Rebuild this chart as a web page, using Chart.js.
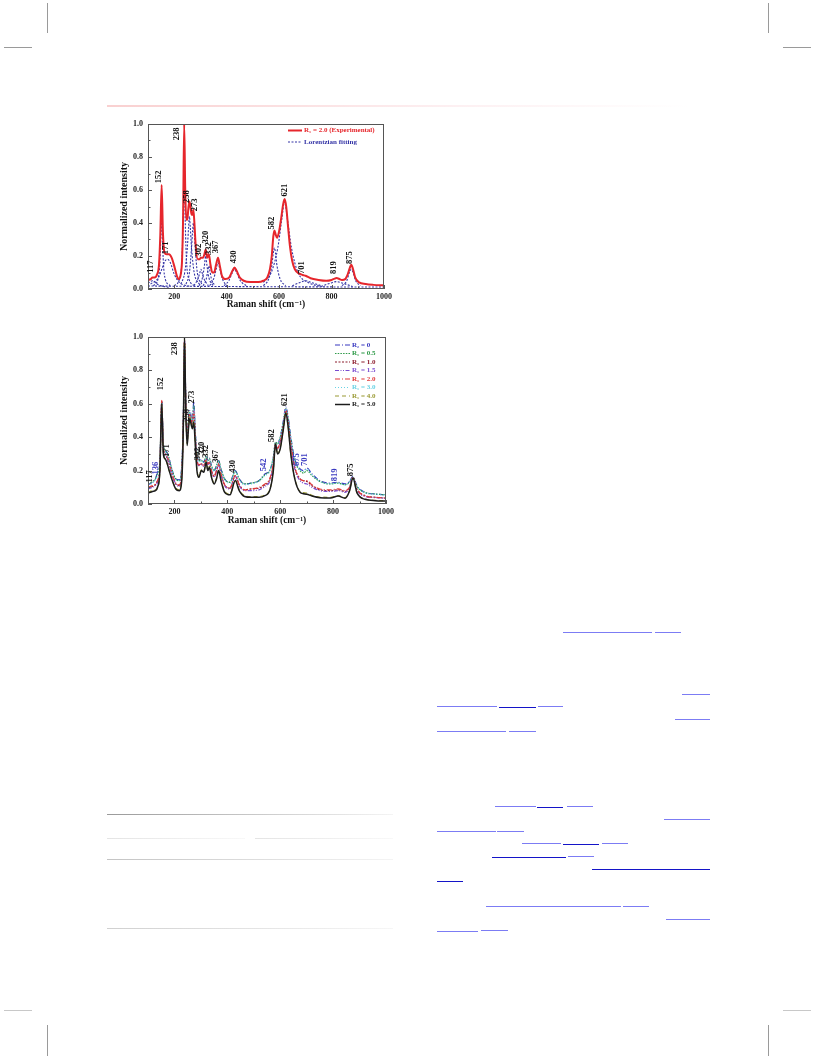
<!DOCTYPE html>
<html>
<head>
<meta charset="utf-8">
<script src="https://cdn.jsdelivr.net/npm/chart.js@4.4.0/dist/chart.umd.min.js"></script>
<style>
  body { margin: 0; background: #fff; }
  #page { position: relative; width: 816px; height: 1056px; overflow: hidden; background: #fff; }
  .box { position: absolute; }
  .crop { position: absolute; background: #9a9a9a; }
  .ul { position: absolute; height: 1px; background: #7c7cf4; }
  .ul.dk { background: #1414c8; }
  .rule { position: absolute; height: 1px; }
</style>
</head>
<body>
<div id="page">
  <!-- crop marks -->
  <div class="crop" style="left:47px;top:3px;width:1px;height:30px"></div>
  <div class="crop" style="left:768px;top:3px;width:1px;height:30px"></div>
  <div class="crop" style="left:4px;top:47px;width:28px;height:1px"></div>
  <div class="crop" style="left:783px;top:47px;width:28px;height:1px"></div>
  <div class="crop" style="left:4px;top:1010px;width:28px;height:1px;background:#c8c8c8"></div>
  <div class="crop" style="left:783px;top:1010px;width:28px;height:1px;background:#c8c8c8"></div>
  <div class="crop" style="left:47px;top:1025px;width:1px;height:31px"></div>
  <div class="crop" style="left:768px;top:1025px;width:1px;height:31px"></div>

  <div class="rule" style="left:107px;top:105px;width:583px;height:1.5px;background:linear-gradient(to right,#f9d0d0,#fdf0f2 60%,#fff)"></div>
  <div class="rule" style="left:107px;top:814px;width:286px;background:linear-gradient(to right,#9a9a9a,#f4f4f4)"></div>
  <div class="rule" style="left:107px;top:838px;width:138px;background:linear-gradient(to right,#e4e4e4,#f8f8f8)"></div>
  <div class="rule" style="left:255px;top:838px;width:138px;background:linear-gradient(to right,#e4e4e4,#f8f8f8)"></div>
  <div class="rule" style="left:107px;top:859px;width:286px;background:linear-gradient(to right,#c4c4c4,#f4f4f4)"></div>
  <div class="rule" style="left:107px;top:928px;width:286px;background:linear-gradient(to right,#d0d0d0,#f6f6f6)"></div>

  <!-- reference link underlines, right column -->
  <div class="ul" style="left:563px;top:632px;width:89px"></div>
  <div class="ul" style="left:655px;top:632px;width:26px"></div>
  <div class="ul" style="left:682px;top:694px;width:28px"></div>
  <div class="ul" style="left:437px;top:706px;width:60px"></div>
  <div class="ul dk" style="left:499px;top:707px;width:37px"></div>
  <div class="ul" style="left:538px;top:706px;width:25px"></div>
  <div class="ul" style="left:675px;top:719px;width:35px"></div>
  <div class="ul" style="left:437px;top:731px;width:69px"></div>
  <div class="ul" style="left:509px;top:731px;width:27px"></div>
  <div class="ul" style="left:495px;top:806px;width:41px"></div>
  <div class="ul dk" style="left:537px;top:807px;width:26px"></div>
  <div class="ul" style="left:567px;top:806px;width:26px"></div>
  <div class="ul" style="left:664px;top:819px;width:46px"></div>
  <div class="ul" style="left:437px;top:831px;width:59px"></div>
  <div class="ul" style="left:497px;top:831px;width:27px"></div>
  <div class="ul" style="left:522px;top:843px;width:39px"></div>
  <div class="ul dk" style="left:563px;top:844px;width:36px"></div>
  <div class="ul" style="left:602px;top:843px;width:26px"></div>
  <div class="ul dk" style="left:492px;top:857px;width:74px"></div>
  <div class="ul" style="left:568px;top:856px;width:26px"></div>
  <div class="ul dk" style="left:592px;top:869px;width:118px"></div>
  <div class="ul dk" style="left:437px;top:881px;width:26px"></div>
  <div class="ul" style="left:486px;top:906px;width:135px"></div>
  <div class="ul" style="left:623px;top:906px;width:26px"></div>
  <div class="ul" style="left:666px;top:919px;width:44px"></div>
  <div class="ul" style="left:437px;top:931px;width:41px"></div>
  <div class="ul" style="left:481px;top:930px;width:27px"></div>

  <div class="box" style="left:96px;top:112px;"><canvas id="ramanFit" width="300" height="200"></canvas></div>
  <div class="box" style="left:96px;top:325px;"><canvas id="ramanSeries" width="302" height="201"></canvas></div>
</div>

<script>
// ---- top panel: experimental spectrum (R1 = 2.0) ----
const fitX = [100,110,117,125,135,142,147,152,157,163,171,180,190,200,210,218,225,230,234,238,
  242,246,250,254,258,262,266,270,273,277,282,290,296,302,310,315,320,326,332,338,
  345,352,360,367,374,382,395,410,422,430,438,450,465,490,520,540,555,565,572,578,
  582,587,592,600,608,615,621,627,634,642,650,660,675,690,701,720,750,780,800,812,
  819,828,840,852,862,869,875,882,890,905,930,960,1000];
const fitExp = [0.055,0.06,0.07,0.07,0.09,0.15,0.33,0.63,0.34,0.22,0.21,0.21,0.19,0.14,0.08,0.06,0.09,0.18,0.45,1.0,
  0.6,0.42,0.42,0.49,0.53,0.5,0.45,0.45,0.48,0.4,0.26,0.18,0.18,0.19,0.19,0.21,0.24,0.19,0.21,0.15,
  0.1,0.1,0.15,0.19,0.14,0.08,0.06,0.07,0.11,0.13,0.11,0.07,0.05,0.042,0.042,0.05,0.07,0.12,0.2,0.32,
  0.355,0.33,0.31,0.35,0.43,0.51,0.545,0.5,0.38,0.25,0.17,0.12,0.095,0.085,0.08,0.065,0.055,0.05,0.055,0.063,
  0.066,0.062,0.055,0.06,0.09,0.125,0.147,0.12,0.07,0.04,0.03,0.025,0.022];

// Lorentzian components (wavenumber, intensity)
const lor117 = [[100,0.035],[110,0.045],[117,0.05],[124,0.045],[140,0.025],[180,0.01]];
const lor152 = [[120,0.02],[138,0.06],[145,0.15],[149,0.32],[152,0.5],[155,0.32],[159,0.15],[166,0.06],[185,0.02]];
const lor171 = [[110,0.03],[140,0.07],[155,0.13],[165,0.17],[175,0.18],[185,0.16],[200,0.09],[220,0.04],[260,0.015]];
const lor238 = [[200,0.02],[220,0.06],[230,0.2],[235,0.5],[238,0.87],[241,0.5],[246,0.2],[256,0.06],[280,0.02]];
const lor258 = [[225,0.03],[240,0.1],[250,0.25],[255,0.38],[258,0.44],[261,0.38],[266,0.25],[276,0.1],[295,0.03]];
const lor273 = [[245,0.03],[258,0.1],[266,0.25],[270,0.35],[273,0.4],[276,0.35],[280,0.25],[288,0.1],[305,0.03]];
const lor302 = [[275,0.02],[290,0.06],[298,0.1],[302,0.12],[306,0.1],[314,0.06],[330,0.02]];
const lor320 = [[295,0.02],[308,0.07],[315,0.14],[320,0.2],[325,0.14],[332,0.07],[348,0.02]];
const lor332 = [[310,0.02],[322,0.06],[328,0.11],[332,0.14],[336,0.11],[342,0.06],[355,0.02]];
const lor367 = [[335,0.02],[350,0.06],[360,0.12],[367,0.16],[374,0.12],[384,0.06],[400,0.02]];
const lor430 = [[390,0.02],[408,0.05],[422,0.1],[430,0.12],[438,0.1],[452,0.05],[475,0.02]];
const lor582 = [[540,0.02],[560,0.06],[572,0.14],[578,0.22],[582,0.25],[586,0.22],[592,0.14],[604,0.06],[625,0.02]];
const lor621 = [[540,0.04],[570,0.1],[595,0.25],[610,0.42],[621,0.53],[632,0.42],[647,0.25],[672,0.1],[710,0.04],[760,0.015]];
const lor701 = [[650,0.02],[680,0.04],[701,0.05],[722,0.04],[760,0.02]];
const lor819 = [[760,0.015],[795,0.035],[819,0.045],[843,0.035],[880,0.015]];
const lor875 = [[840,0.02],[858,0.05],[868,0.1],[875,0.12],[882,0.1],[892,0.05],[910,0.02]];
const lorBase = [[100,0.018],[400,0.015],[700,0.013],[1000,0.012]];
const lorentzComponents = [lor117,lor152,lor171,lor238,lor258,lor273,lor302,lor320,lor332,lor367,
  lor430,lor582,lor621,lor701,lor819,lor875,lorBase];

const fitLegend = ["R\u2081 = 2.0 (Experimental)", "Lorentzian fitting"];
const fitPeakNames = ["117","152","171","238","258","273","302","320","332","367","430","582","621","701","819","875"];
const fitPeakX = [109,140,168,209,249,278,294,321,330,360,428,572,620,686,810,870];
const fitPeakY = [0.135,0.68,0.25,0.94,0.56,0.51,0.235,0.315,0.245,0.255,0.195,0.40,0.60,0.13,0.13,0.19];

// ---- bottom panel: spectra for the series ----
const seriesX = [100,117,128,136,145,152,158,165,171,180,190,205,218,228,234,238,243,248,253,258,
  264,268,273,279,285,292,302,311,320,326,332,340,350,359,367,376,390,410,430,445,
  465,490,520,542,560,574,582,590,600,612,621,630,640,655,675,688,701,720,750,790,
  819,845,862,875,890,920,960,1000];
const seriesLabels = ["R\u2082 = 0","R\u2081 = 0.5","R\u2081 = 1.0","R\u2081 = 1.5","R\u2081 = 2.0","R\u2081 = 3.0","R\u2081 = 4.0","R\u2081 = 5.0"];
const r2_0 = [0.115,0.13,0.15,0.19,0.25,0.62,0.36,0.32,0.31,0.27,
  0.21,0.15,0.145,0.24,0.55,0.97,0.62,0.42,0.5,0.56,
  0.52,0.5,0.61,0.43,0.3,0.26,0.265,0.25,0.29,0.26,
  0.275,0.23,0.2,0.23,0.26,0.21,0.15,0.13,0.2,0.15,
  0.12,0.125,0.14,0.18,0.2,0.28,0.37,0.36,0.4,0.5,
  0.58,0.52,0.4,0.27,0.21,0.2,0.215,0.18,0.14,0.125,
  0.13,0.12,0.135,0.165,0.11,0.07,0.06,0.055];
const r1_05 = [0.12,0.135,0.15,0.18,0.25,0.61,0.36,0.32,0.31,0.27,
  0.21,0.15,0.14,0.23,0.54,0.96,0.61,0.42,0.5,0.55,
  0.51,0.5,0.59,0.42,0.3,0.26,0.26,0.25,0.285,0.26,
  0.27,0.23,0.2,0.23,0.26,0.21,0.15,0.13,0.195,0.15,
  0.12,0.125,0.14,0.175,0.2,0.28,0.37,0.36,0.4,0.49,
  0.57,0.51,0.39,0.26,0.2,0.185,0.2,0.17,0.135,0.12,
  0.125,0.115,0.13,0.16,0.105,0.07,0.06,0.055];
const r1_10 = [0.095,0.105,0.115,0.14,0.22,0.61,0.33,0.3,0.28,0.24,
  0.18,0.12,0.11,0.2,0.52,0.98,0.6,0.4,0.48,0.54,
  0.5,0.48,0.55,0.4,0.27,0.23,0.24,0.23,0.27,0.24,
  0.25,0.2,0.165,0.2,0.24,0.18,0.115,0.095,0.17,0.115,
  0.085,0.09,0.095,0.115,0.145,0.24,0.36,0.33,0.37,0.47,
  0.56,0.49,0.36,0.22,0.15,0.14,0.135,0.11,0.085,0.08,
  0.085,0.075,0.1,0.16,0.09,0.05,0.04,0.035];
const r1_15 = [0.09,0.1,0.11,0.13,0.21,0.6,0.33,0.29,0.28,0.24,
  0.18,0.12,0.105,0.2,0.52,0.98,0.6,0.4,0.48,0.54,
  0.5,0.48,0.57,0.4,0.27,0.23,0.235,0.225,0.265,0.235,
  0.245,0.195,0.16,0.195,0.235,0.175,0.11,0.09,0.165,0.11,
  0.08,0.08,0.085,0.105,0.135,0.23,0.36,0.33,0.37,0.47,
  0.57,0.49,0.36,0.21,0.14,0.125,0.12,0.1,0.08,0.075,
  0.08,0.07,0.095,0.155,0.085,0.045,0.038,0.033];
const r1_20 = [0.1,0.11,0.12,0.14,0.22,0.62,0.34,0.3,0.29,0.25,
  0.19,0.125,0.115,0.21,0.53,0.98,0.6,0.41,0.49,0.54,
  0.5,0.48,0.56,0.4,0.27,0.235,0.24,0.23,0.27,0.24,
  0.25,0.2,0.165,0.2,0.24,0.18,0.115,0.095,0.17,0.115,
  0.085,0.09,0.1,0.12,0.15,0.245,0.36,0.335,0.375,0.47,
  0.56,0.49,0.36,0.22,0.15,0.14,0.14,0.115,0.09,0.085,
  0.09,0.08,0.1,0.16,0.09,0.05,0.04,0.036];
const r1_30 = [0.11,0.125,0.145,0.17,0.24,0.6,0.35,0.31,0.3,0.26,
  0.2,0.145,0.14,0.23,0.54,0.96,0.6,0.41,0.49,0.55,
  0.51,0.49,0.58,0.42,0.29,0.25,0.26,0.245,0.28,0.255,
  0.265,0.225,0.195,0.225,0.255,0.205,0.145,0.125,0.195,0.145,
  0.115,0.12,0.135,0.17,0.195,0.275,0.365,0.355,0.395,0.49,
  0.57,0.51,0.39,0.265,0.205,0.195,0.21,0.175,0.135,0.12,
  0.125,0.115,0.13,0.16,0.105,0.068,0.058,0.053];
const r1_40 = [0.07,0.08,0.085,0.1,0.2,0.6,0.3,0.27,0.25,0.2,
  0.15,0.095,0.085,0.16,0.5,0.99,0.56,0.36,0.46,0.52,
  0.48,0.46,0.5,0.36,0.21,0.17,0.205,0.195,0.255,0.205,
  0.225,0.165,0.125,0.155,0.205,0.145,0.075,0.06,0.145,0.085,
  0.05,0.045,0.045,0.055,0.085,0.2,0.36,0.3,0.335,0.45,
  0.55,0.46,0.3,0.155,0.075,0.068,0.065,0.052,0.042,0.04,
  0.05,0.038,0.08,0.155,0.07,0.03,0.022,0.02];
const r1_50 = [0.065,0.075,0.08,0.1,0.2,0.6,0.3,0.27,0.25,0.2,
  0.15,0.09,0.08,0.15,0.5,1.0,0.55,0.35,0.45,0.51,
  0.47,0.45,0.49,0.35,0.2,0.16,0.2,0.19,0.25,0.2,
  0.22,0.16,0.12,0.15,0.2,0.14,0.07,0.055,0.14,0.08,
  0.045,0.04,0.04,0.05,0.08,0.2,0.36,0.3,0.33,0.45,
  0.545,0.46,0.3,0.15,0.07,0.062,0.058,0.048,0.038,0.036,
  0.048,0.035,0.078,0.155,0.068,0.028,0.02,0.018];
const seriesValues = [r2_0, r1_05, r1_10, r1_15, r1_20, r1_30, r1_40, r1_50];
const seriesColors = ["#3838c0","#2e9a48","#8c1c2c","#7a4cd0","#e03838","#68d2e4","#9a9a34","#1c1c1c"];
const seriesDashes = [[5,2,1,2],[1.5,1.2],[2,1.5],[4,1.5,1,1.5,1,1.5],[5,2,1,2],[1,2],[4,3],[]];

const seriesPeakNames = ["117","136","152","171","238","258","273","302","320","332","367","430","542","582","621","675","701","819","875"];
const seriesPeakX = [106,128,147,172,200,246,267,287,304,320,355,422,537,568,618,664,694,806,868];
const seriesPeakY = [0.165,0.215,0.72,0.32,0.93,0.53,0.64,0.30,0.335,0.315,0.285,0.225,0.235,0.41,0.625,0.265,0.265,0.175,0.205];
const seriesPeakBlue = ["136","542","675","701","819"];

const serif = "'Liberation Serif', 'DejaVu Serif', serif";
Chart.defaults.font.family = serif;
Chart.defaults.font.weight = "bold";
Chart.defaults.color = "#111";

const pairs = (xs, ys) => xs.map((x, i) => ({ x: x, y: ys[i] }));

// frame round the plot + small inward ticks
const frameTicks = {
  id: "frameTicks",
  afterDatasetsDraw(chart) {
    const { ctx, chartArea: a, scales } = chart;
    ctx.save();
    ctx.strokeStyle = "#555";
    ctx.lineWidth = 1;
    ctx.strokeRect(a.left + 0.5, a.top + 0.5, a.width - 1, a.height - 1);
    ctx.beginPath();
    scales.x.ticks.forEach((t) => {
      const px = Math.round(scales.x.getPixelForValue(t.value)) + 0.5;
      const len = t.value % 200 === 0 ? 4 : 2.5;
      ctx.moveTo(px, a.bottom);
      ctx.lineTo(px, a.bottom - len);
    });
    scales.y.ticks.forEach((t) => {
      const py = Math.round(scales.y.getPixelForValue(t.value)) + 0.5;
      const len = Math.round(t.value * 10) % 2 === 0 ? 4 : 2.5;
      ctx.moveTo(a.left, py);
      ctx.lineTo(a.left + len, py);
    });
    ctx.stroke();
    ctx.restore();
  },
};

const peakLabels = (names, xs, ys, colorOf) => ({
  id: "peakLabels",
  afterDatasetsDraw(chart) {
    const { ctx, scales } = chart;
    ctx.save();
    ctx.font = "bold 8.5px " + serif;
    ctx.textAlign = "center";
    ctx.textBaseline = "middle";
    names.forEach((name, i) => {
      ctx.save();
      ctx.translate(scales.x.getPixelForValue(xs[i]), scales.y.getPixelForValue(ys[i]));
      ctx.rotate(-Math.PI / 2);
      ctx.fillStyle = colorOf(name);
      ctx.fillText(name, 0, 0);
      ctx.restore();
    });
    ctx.restore();
  },
});

// legend drawn inside the plot, top right
const insideLegend = (labels, dsIndex, o) => ({
  id: "insideLegend",
  afterDraw(chart) {
    const { ctx, chartArea: a } = chart;
    ctx.save();
    ctx.font = "bold " + o.size + "px " + serif;
    ctx.textBaseline = "middle";
    labels.forEach((txt, i) => {
      const ds = chart.data.datasets[dsIndex[i]];
      const y = a.top + o.top + i * o.gap;
      ctx.strokeStyle = ds.borderColor;
      ctx.lineWidth = ds.borderWidth;
      ctx.setLineDash(ds.borderDash || []);
      ctx.beginPath();
      ctx.moveTo(a.right - o.line0, y);
      ctx.lineTo(a.right - o.line1, y);
      ctx.stroke();
      ctx.fillStyle = ds.borderColor;
      ctx.fillText(txt, a.right - o.text, y);
    });
    ctx.restore();
  },
});

const xAxis = (h) => ({
  type: "linear",
  min: 100,
  max: 1000,
  grid: { display: false, drawTicks: false },
  border: { display: false },
  ticks: {
    stepSize: 100,
    autoSkip: false,
    maxRotation: 0,
    padding: 3,
    color: "#222",
    font: { size: 8, weight: "bold" },
    callback: (v) => (v % 200 === 0 ? String(v) : ""),
  },
  title: { display: true, text: "Raman shift (cm\u207B\u00B9)", padding: 0, font: { size: 9.5, weight: "bold" } },
  afterFit: (s) => { s.height = h; },
});

const yAxis = (w) => ({
  min: 0,
  max: 1,
  grid: { display: false, drawTicks: false },
  border: { display: false },
  ticks: {
    stepSize: 0.1,
    autoSkip: false,
    padding: 5,
    color: "#222",
    font: { size: 8, weight: "bold" },
    callback: (v) => (Math.round(v * 10) % 2 === 0 ? v.toFixed(1) : ""),
  },
  title: { display: true, text: "Normalized intensity", padding: 0, font: { size: 10, weight: "bold" } },
  afterFit: (s) => { s.width = w; },
});

const baseOptions = (pad, xh) => ({
  responsive: false,
  animation: false,
  layout: { padding: pad },
  elements: { point: { radius: 0 }, line: { cubicInterpolationMode: "monotone" } },
  plugins: { legend: { display: false }, tooltip: { enabled: false } },
  scales: { x: xAxis(xh), y: yAxis(30) },
});

// top chart
const fitDatasets = [
  {
    label: fitLegend[0],
    data: pairs(fitX, fitExp),
    borderColor: "#e6262c",
    borderWidth: 2,
  },
];
lorentzComponents.forEach((comp) => {
  fitDatasets.push({
    label: fitLegend[1],
    data: comp.map((p) => ({ x: p[0], y: p[1] })),
    borderColor: "#3434a6",
    borderWidth: 1.1,
    borderDash: [2, 1.5],
  });
});

new Chart(document.getElementById("ramanFit"), {
  type: "line",
  data: { datasets: fitDatasets },
  options: baseOptions({ left: 22, right: 12, top: 12, bottom: 2 }, 21),
  plugins: [
    frameTicks,
    peakLabels(fitPeakNames, fitPeakX, fitPeakY, () => "#111"),
    insideLegend(fitLegend, [0, 1], { size: 7, top: 6.5, gap: 11.5, line0: 96, line1: 82, text: 80 }),
  ],
});

// bottom chart
const seriesDatasets = seriesValues.map((vals, i) => ({
  label: seriesLabels[i],
  data: pairs(seriesX, vals),
  borderColor: seriesColors[i],
  borderWidth: i === 7 ? 1.5 : 1.2,
  borderDash: seriesDashes[i],
  order: 7 - i,
}));

new Chart(document.getElementById("ramanSeries"), {
  type: "line",
  data: { datasets: seriesDatasets },
  options: baseOptions({ left: 22, right: 12, top: 12, bottom: 0 }, 22),
  plugins: [
    frameTicks,
    peakLabels(seriesPeakNames, seriesPeakX, seriesPeakY, (n) => (seriesPeakBlue.includes(n) ? "#3a3ac0" : "#111")),
    insideLegend(seriesLabels, [0, 1, 2, 3, 4, 5, 6, 7], { size: 7, top: 8, gap: 8.5, line0: 51, line1: 36, text: 34 }),
  ],
});
</script>
</body>
</html>
